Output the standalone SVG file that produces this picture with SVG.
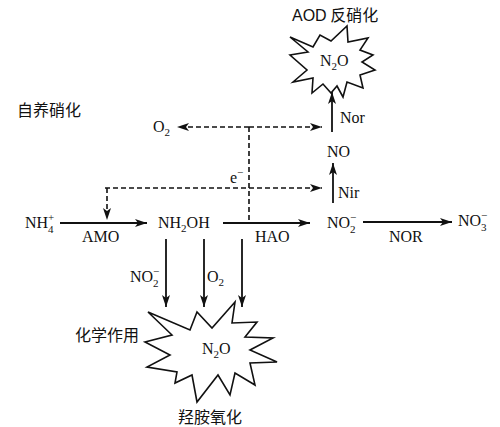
<svg xmlns="http://www.w3.org/2000/svg" width="500" height="427" viewBox="0 0 500 427">
<defs>
<style>
.t{font-family:"Liberation Serif","Times New Roman",serif;font-size:16px;fill:#111}
.s{font-size:11px}
.c{font-family:"Noto Sans CJK SC","Noto Sans",sans-serif;font-size:16px;fill:#111}
.ln{stroke:#111;stroke-width:1.8;fill:none}
.dl{stroke:#111;stroke-width:1.6;fill:none;stroke-dasharray:5,3}
.star{fill:#fff;stroke:#111;stroke-width:1.6;stroke-linejoin:miter}
</style>
<marker id="ah" viewBox="0 0 12 8" refX="12" refY="4" markerWidth="12" markerHeight="8" orient="auto" markerUnits="userSpaceOnUse">
<path d="M0,0 L12,4 L0,8 L3,4 z" fill="#111"/>
</marker>
</defs>
<rect width="500" height="427" fill="#fff"/>

<g id="connectors">
<line class="ln" x1="60" y1="223" x2="147" y2="223" marker-end="url(#ah)"/>
<line class="ln" x1="223" y1="223" x2="310" y2="223" marker-end="url(#ah)"/>
<line class="ln" x1="363" y1="222" x2="452" y2="222" marker-end="url(#ah)"/>
<line class="ln" x1="333" y1="203" x2="333" y2="163" marker-end="url(#ah)"/>
<line class="ln" x1="332" y1="132" x2="332" y2="92" marker-end="url(#ah)"/>
<line class="ln" x1="166" y1="239" x2="166" y2="307" marker-end="url(#ah)"/>
<line class="ln" x1="204" y1="239" x2="204" y2="307" marker-end="url(#ah)"/>
<line class="ln" x1="242" y1="239" x2="242" y2="307" marker-end="url(#ah)"/>
<line class="dl" x1="249" y1="127" x2="177" y2="127" marker-end="url(#ah)"/>
<line class="dl" x1="249" y1="127" x2="322" y2="127" marker-end="url(#ah)"/>
<line class="dl" x1="249" y1="127" x2="249" y2="222"/>
<line class="dl" x1="105" y1="188" x2="322" y2="188" marker-end="url(#ah)"/>
<line class="dl" x1="107" y1="188" x2="107" y2="220" marker-end="url(#ah)"/>
</g>

<g id="n2o-top">
<polygon class="star" points="290,37 313,47 320,35 331,41 347,26 348,42 368,38 360,50 373,55 362,62 375,70 360,75 363,88 347,82 343,97 337,86 331,93 323,84 312,93 313,78 293,82 307,70 290,55 308,52"/>
<text class="t" x="320" y="66">N<tspan class="s" dy="4">2</tspan><tspan dy="-4">O</tspan></text>
</g>
<g id="aod-label"><text class="c" x="292" y="21"><tspan font-family="Liberation Sans,Arial,sans-serif">AOD</tspan> 反硝化</text></g>

<g id="n2o-bottom">
<polygon class="star" points="148,312 190,330 197,312 212,328 235,302 232,323 257,322 245,337 273,338 250,350 277,362 250,363 255,385 235,373 230,395 218,375 197,402 192,375 175,383 177,372 147,367 170,355 145,342 172,335"/>
<text class="t" x="202" y="354">N<tspan class="s" dy="4">2</tspan><tspan dy="-4">O</tspan></text>
</g>

<g id="label-zyxh"><text class="c" x="17" y="116">自养硝化</text></g>
<g id="label-hxzy"><text class="c" x="75" y="341">化学作用</text></g>
<g id="label-qaoh"><text class="c" x="178" y="423">羟胺氧化</text></g>

<g id="nh4">
<text class="t" x="25" y="228">NH</text>
<text class="t s" x="48" y="221">+</text>
<text class="t s" x="48" y="233">4</text>
</g>
<g id="amo"><text class="t" x="82" y="242">AMO</text></g>
<g id="nh2oh"><text class="t" x="158" y="228">NH<tspan class="s" dy="4">2</tspan><tspan dy="-4">OH</tspan></text></g>
<g id="hao"><text class="t" x="255" y="242">HAO</text></g>
<g id="no2">
<text class="t" x="327" y="228">NO</text>
<text class="t s" x="350" y="221">−</text>
<text class="t s" x="350" y="233">2</text>
</g>
<g id="nor"><text class="t" x="389" y="242">NOR</text></g>
<g id="no3">
<text class="t" x="458" y="226">NO</text>
<text class="t s" x="481" y="219">−</text>
<text class="t s" x="481" y="231">3</text>
</g>
<g id="no"><text class="t" x="327" y="157">NO</text></g>
<g id="nir"><text class="t" x="338" y="198">Nir</text></g>
<g id="norl"><text class="t" x="340" y="123">Nor</text></g>
<g id="o2-top"><text class="t" x="153" y="132">O<tspan class="s" dy="4">2</tspan></text></g>
<g id="e"><text class="t" x="230" y="183">e</text><text class="t s" x="237" y="176">−</text></g>
<g id="no2-label">
<text class="t" x="130" y="282">NO</text>
<text class="t s" x="153" y="275">−</text>
<text class="t s" x="153" y="287">2</text>
</g>
<g id="o2-label"><text class="t" x="207" y="282">O<tspan class="s" dy="4">2</tspan></text></g>
</svg>
